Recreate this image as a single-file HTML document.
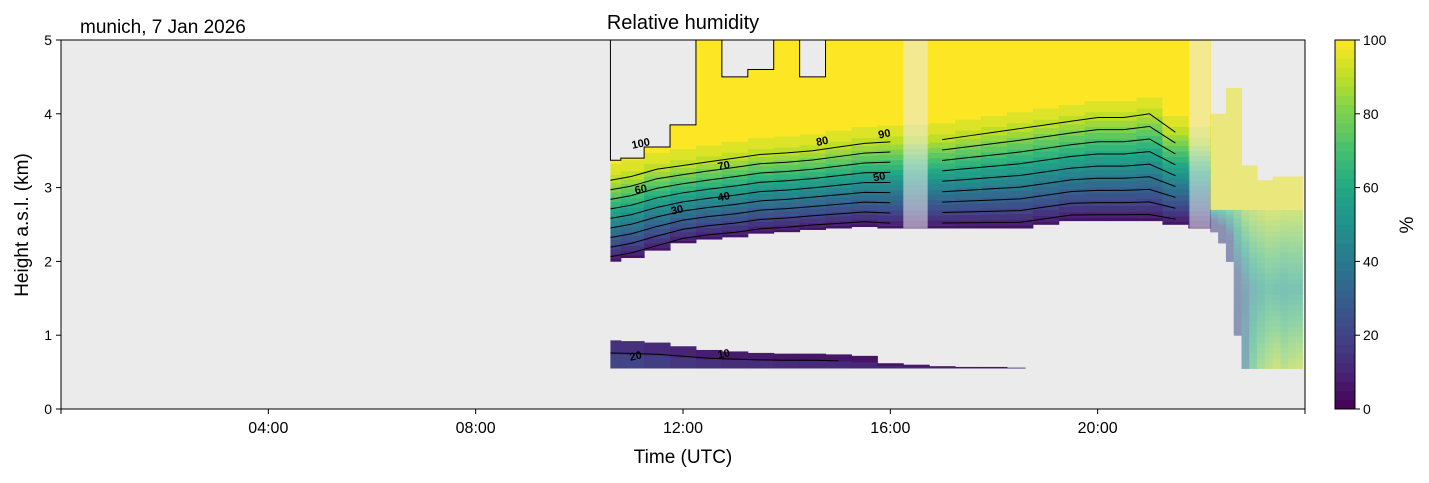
<!DOCTYPE html>
<html><head><meta charset="utf-8">
<style>
body{margin:0;background:#fff;}
svg text{font-family:"Liberation Sans","DejaVu Sans",sans-serif;}
</style></head>
<body>
<svg id="chart" width="1429" height="478" viewBox="0 0 1429 478" xmlns="http://www.w3.org/2000/svg">
<text x="80" y="33" font-size="19">munich, 7 Jan 2026</text>
<text x="683" y="29" font-size="20" text-anchor="middle">Relative humidity</text>
<rect x="61" y="40" width="1244" height="369" fill="#ebebeb"/>
<g id="marks"></g>
<rect x="61" y="40" width="1244" height="369" fill="none" stroke="#000" stroke-width="1"/>
<g id="axes"></g>
<text x="683" y="463" font-size="19" text-anchor="middle">Time (UTC)</text>
<text transform="translate(28,225) rotate(-90)" font-size="19" text-anchor="middle">Height a.s.l. (km)</text>
<g id="cbar"></g>
<text transform="translate(1413,225) rotate(-90)" font-size="19" text-anchor="middle">%</text>
</svg>
<script>
const times=[10.6,11,11.5,12,12.5,13,13.5,14,14.5,15,15.5,16,16.5,17,17.5,18,18.5,19,19.5,20,20.5,21,21.5,22];
const baseKm=[2.0,2.05,2.15,2.25,2.3,2.33,2.38,2.4,2.43,2.45,2.47,2.45,2.45,2.45,2.45,2.45,2.45,2.5,2.55,2.55,2.55,2.55,2.5,2.45];
const top90Km=[3.1,3.15,3.25,3.3,3.35,3.4,3.45,3.47,3.5,3.55,3.6,3.62,3.63,3.65,3.7,3.75,3.8,3.85,3.9,3.95,3.95,4.0,3.75,3.6];
const capKm=[3.37,3.4,3.55,3.85,5,4.5,4.6,5,4.5,5,5,5,5,5,5,5,5,5,5,5,5,5,5,5];
const bands=[[16.25,16.72],[21.77,22.17]];
const lowTimes=[10.6,11,11.5,12,12.5,13,13.5,14,14.5,15,15.5,16,16.5,17,17.5,18,18.5];
const lowTopKm=[0.93,0.92,0.9,0.85,0.8,0.78,0.76,0.75,0.75,0.74,0.72,0.62,0.6,0.58,0.57,0.57,0.56];
const lowRH=[14,14,12,10,8,7,7,6,6,6,5,5,5,5,4,4,4];
const rTimes=[22.25,22.4,22.55,22.7,22.85,23.0,23.15,23.3,23.45,23.6,23.75,23.9];
const rBaseKm=[2.4,2.25,2.0,1.0,0.55,0.55,0.55,0.55,0.55,0.55,0.55,0.55];
const rBottomRH=[20,20,22,25,40,70,80,85,90,85,88,90];
const rMidRH=[22,22,25,28,35,50,55,60,58,55,58,58];
const rTopRH=[60,65,70,75,85,88,90,92,92,90,90,90];
const rCapKm=[4.0,4.0,4.35,4.35,3.3,3.3,3.1,3.1,3.15,3.15,3.15,3.15];
const xTicks=[0,4,8,12,16,20,24];
const xTickLabels=["","04:00","08:00","12:00","16:00","20:00",""];
const yTicks=[0,1,2,3,4,5];
const cTicks=[0,20,40,60,80,100];
const contourLevels=[10,20,30,40,50,60,70,80,90];

const X=t=>61+t*1244/24, Y=h=>409-h*369/5, CY=v=>409-v*369/100;
const NS="http://www.w3.org/2000/svg";
const vir=["#440154","#482475","#414487","#355f8d","#2a788e","#21918c","#22a884","#44bf70","#7ad151","#bddf26","#fde725"];
function hex(c){return [1,3,5].map(i=>parseInt(c.substr(i,2),16));}
function color(v){v=Math.max(0,Math.min(100,v))/10;const i=Math.min(9,Math.floor(v)),f=v-i;const a=hex(vir[i]),b=hex(vir[i+1]);return "rgb("+a.map((x,k)=>Math.round(x+(b[k]-x)*f)).join(",")+")";}
function el(tag,attrs,parent){const e=document.createElementNS(NS,tag);for(const k in attrs)e.setAttribute(k,attrs[k]);parent.appendChild(e);return e;}
const marks=document.getElementById("marks");
const inBand=t=>bands.some(b=>t>b[0]&&t<b[1]);
function hAt(i,L){const b=baseKm[i],t=top90Km[i];if(L<=90)return b+(L-5)/85*(t-b);return t+(L-90)/10*0.3;}
times.forEach((t,i)=>{
  const t0=i==0?t:(times[i-1]+t)/2, t1=i==times.length-1?22.17:(t+times[i+1])/2;
  for(let L=5;L<=100;L+=5){
    const lo=L==5?baseKm[i]:hAt(i,L-2.5), hi=L==100?capKm[i]:Math.min(capKm[i],hAt(i,L+2.5));
    if(hi<=lo)continue;
    const r=el("rect",{x:X(t0),y:Y(hi),width:X(t1)-X(t0)+0.5,height:Y(lo)-Y(hi)+0.3,fill:color(L)},marks);
    
    
  }
});
{let d="";times.forEach((t,i)=>{if(t>16.25)return;const t0=i==0?t:(times[i-1]+t)/2,t1=(t+times[i+1])/2;d+=(i==0?"M"+X(t0)+","+Y(5)+" L":" L")+X(t0)+","+Y(capKm[i])+" L"+X(t1)+","+Y(capKm[i]);});
const p=el("path",{d:d,fill:"none",stroke:"#000","stroke-width":1},marks);

}
contourLevels.forEach(L=>{
  let d="",pen=false;
  times.forEach((t,i)=>{if(inBand(t)){pen=false;return;}d+=(pen?" L":" M")+X(t)+","+Y(hAt(i,L));pen=true;});
  const p=el("path",{d:d,fill:"none",stroke:"#000","stroke-width":1},marks);
  
  
});
lowTimes.forEach((t,i)=>{
  const t0=i==0?t:(lowTimes[i-1]+t)/2, t1=i==lowTimes.length-1?t+0.1:(t+lowTimes[i+1])/2;
  const r=el("rect",{x:X(t0),y:Y(lowTopKm[i]),width:X(t1)-X(t0)+0.5,height:Y(0.55)-Y(lowTopKm[i]),fill:color(lowRH[i])},marks);
  
  
  const r2=el("rect",{x:X(t0),y:Y(0.55+(lowTopKm[i]-0.55)*0.5),width:X(t1)-X(t0)+0.5,height:Y(0.55)-Y(0.55+(lowTopKm[i]-0.55)*0.5),fill:color(lowRH[i]+6)},marks);
  
  
});
{let d="";lowTimes.forEach((t,i)=>{if(t>15)return;d+=(i?" L":"M")+X(t)+","+Y(0.55+(lowTopKm[i]-0.55)*0.55);});
const p=el("path",{d:d,fill:"none",stroke:"#000","stroke-width":1},marks);

}
const rg=el("g",{opacity:0.55},marks);
rTimes.forEach((t,i)=>{
  const t0=i==0?22.17:(rTimes[i-1]+t)/2, t1=i==rTimes.length-1?23.95:(t+rTimes[i+1])/2;
  const steps=30;
  for(let s=0;s<steps;s++){
    const lo=rBaseKm[i]+(2.7-rBaseKm[i])*s/steps, hi=rBaseKm[i]+(2.7-rBaseKm[i])*(s+1)/steps;
    const f=(s+0.5)/steps;
    const v=f<0.5?rBottomRH[i]+(rMidRH[i]-rBottomRH[i])*f*2:rMidRH[i]+(rTopRH[i]-rMidRH[i])*(f-0.5)*2;
    const r=el("rect",{x:X(t0),y:Y(hi),width:X(t1)-X(t0)+0.5,height:Y(lo)-Y(hi)+0.5,fill:color(v)},rg);
    
    
  }
  const r=el("rect",{x:X(t0),y:Y(rCapKm[i]),width:X(t1)-X(t0)+0.5,height:Y(2.7)-Y(rCapKm[i]),fill:color(97)},rg);
  
  
});
bands.forEach(b=>{
  const r=el("rect",{x:X(b[0]),y:Y(5),width:X(b[1])-X(b[0]),height:Y(2.45)-Y(5),fill:"#ebebeb",opacity:0.55},marks);
  
  
});
[["100",11.2,3.55],["90",15.9,3.68],["80",14.7,3.58],["70",12.8,3.25],["60",11.2,2.93],["50",15.8,3.1],["40",12.8,2.83],["30",11.9,2.65],["20",11.1,0.67],["10",12.8,0.7]].forEach(l=>{
  const tx=el("text",{x:X(l[1]),y:Y(l[2]),"font-size":11,"font-weight":"bold","text-anchor":"middle",transform:"rotate(-12 "+X(l[1])+" "+Y(l[2])+")"},marks);
  tx.textContent=l[0];
  
  
});
const ax=document.getElementById("axes");
xTicks.forEach((t,i)=>{
  el("line",{x1:X(t),x2:X(t),y1:409,y2:414,stroke:"#000"},ax);
  const tx=el("text",{x:X(t),y:433,"font-size":16,"text-anchor":"middle"},ax);
  tx.textContent=xTickLabels[i];
  
  
});
yTicks.forEach(h=>{
  el("line",{x1:56,x2:61,y1:Y(h),y2:Y(h),stroke:"#000"},ax);
  const tx=el("text",{x:52,y:Y(h)+5,"font-size":14,"text-anchor":"end"},ax);
  tx.textContent=h;
  
  
});
const cb=document.getElementById("cbar");
for(let v=0;v<100;v+=2.5){
  const r=el("rect",{x:1335,y:CY(v+2.5),width:20,height:CY(v)-CY(v+2.5)+0.5,fill:color(v+1.25)},cb);
  
  
}
el("rect",{x:1335,y:40,width:20,height:369,fill:"none",stroke:"#000"},cb);
cTicks.forEach(v=>{
  el("line",{x1:1355,x2:1360,y1:CY(v),y2:CY(v),stroke:"#000"},cb);
  const tx=el("text",{x:1363,y:CY(v)+5,"font-size":14},cb);
  tx.textContent=v;
  
  
});
</script>
</body></html>
